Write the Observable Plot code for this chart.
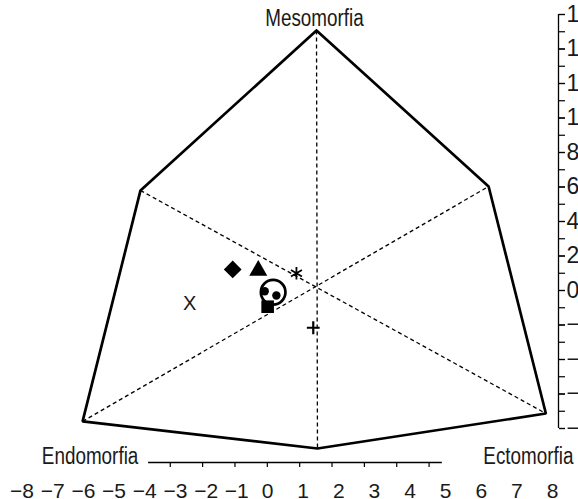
<!DOCTYPE html>
<html>
<head>
<meta charset="utf-8">
<script src="https://cdn.jsdelivr.net/npm/d3@7"></script>
<script src="https://cdn.jsdelivr.net/npm/@observablehq/plot@0.6"></script>
<style>
  html, body { margin: 0; padding: 0; background: white; overflow: hidden; }
  #wrap { position: relative; width: 578px; height: 499px; }
  #wrap svg { position: absolute; left: 0; top: 0; }
</style>
</head>
<body>
<div id="wrap"></div>
<script>
// ---- data (somatochart coordinates) ----
const vertexNames = ["Mesomorfia", "Endomorfia", "Ectomorfia"];
// hull vertices: top, upper-right, lower-right, bottom, lower-left, upper-left
const hullX = [1.52, 6.84, 8.61, 1.55, -5.71, -3.92];
const hullY = [15.07, 6.03, -7.13, -9.16, -7.59, 5.80];
// dashed axes join opposite vertices
const axisPairs = [[0, 3], [5, 2], [4, 1]];

// group means
const pointKind = ["diamond", "triangle", "asterisk", "ring", "dot", "dot", "square", "X", "plus"];
const pointX = [-1.07, -0.28, 0.90, 0.18, -0.08, 0.28, 0.01, -2.40, 1.42];
const pointY = [1.22, 1.16, 1.00, -0.10, -0.04, -0.29, -0.94, -0.77, -2.16];

// axes
const xTicks = [-3, -2, -1, 0, 1, 2, 3, 4, 5];
const xLabels = [-8, -7, -6, -5, -4, -3, -2, -1, 0, 1, 2, 3, 4, 5, 6, 7, 8];
const xBaseline = [-3.67, 5.41];
const yTicks = d3.range(-8, 17);
const yLabels = [-8, -6, -4, -2, 0, 2, 4, 6, 8, 10, 12, 14, 16];

// ---- derived tables ----
const hull = hullX.map((x, i) => ({x, y: hullY[i]}));
const hullClosed = [...hull, hull[0]];
const links = axisPairs.map(([a, b]) => ({x1: hullX[a], y1: hullY[a], x2: hullX[b], y2: hullY[b]}));
const points = pointKind.map((k, i) => ({kind: k, x: pointX[i], y: pointY[i]}));
const pts = k => points.filter(p => p.kind === k);

const FONT = "'Liberation Sans', Arial, Helvetica, sans-serif";
const INK = "#1a1a1a";

const vlabel = (idx, name, dx, dy) =>
  Plot.text([hull[idx]], {x: "x", y: "y", text: () => name, dx, dy,
    fontSize: 23, fill: INK, textAnchor: "middle", lineAnchor: "middle"});

const main = Plot.plot({
  width: 578, height: 499,
  marginLeft: 8, marginRight: 20, marginTop: 14, marginBottom: 37,
  insetBottom: 34,
  x: {domain: [-8, 9]},
  y: {domain: [-8, 16]},
  style: {fontFamily: FONT, color: INK, background: "white", overflow: "visible"},
  marks: [
    Plot.link(links, {x1: "x1", y1: "y1", x2: "x2", y2: "y2", stroke: "black",
      strokeWidth: 1.3, strokeDasharray: "4,3"}),
    Plot.line(hullClosed, {x: "x", y: "y", stroke: "black", strokeWidth: 2.7,
      strokeLinejoin: "miter"}),
    vlabel(0, vertexNames[0], -2, -11.6),
    vlabel(4, vertexNames[1], 7.5, 35),
    vlabel(2, vertexNames[2], -17.5, 43),
    // markers
    Plot.dot(pts("diamond"), {x: "x", y: "y", symbol: "diamond2", r: 8.0, fill: "black", stroke: "none"}),
    Plot.dot(pts("triangle"), {x: "x", y: "y", symbol: "triangle", r: 6.7, fill: "black"}),
    Plot.dot(pts("asterisk"), {x: "x", y: "y", symbol: "asterisk", r: 6.0, stroke: "black", strokeWidth: 1.8}),
    Plot.dot(pts("ring"), {x: "x", y: "y", r: 12.3, stroke: "black", strokeWidth: 2.7, fill: "none"}),
    Plot.dot(pts("dot"), {x: "x", y: "y", r: 4.2, fill: "black"}),
    Plot.dot(pts("square"), {x: "x", y: "y", symbol: "square", r: 7.1, fill: "black"}),
    Plot.text(pts("X"), {x: "x", y: "y", text: () => "X", fontSize: 20, fill: INK, lineAnchor: "middle"}),
    Plot.dot(pts("plus"), {x: "x", y: "y", symbol: "plus", r: 4.2, stroke: "black", strokeWidth: 2.2}),
    // right axis
    Plot.ruleX([9], {y1: -8, y2: 16, stroke: "black", strokeWidth: 1.3}),
    Plot.axisY(yTicks, {anchor: "right", tickSize: 6, tickFormat: () => "", label: null, stroke: "black", strokeWidth: 1.2}),
    Plot.axisY(yLabels, {anchor: "right", tickSize: 6, tickPadding: 2, label: null, fontSize: 23, stroke: "black", strokeWidth: 1.2}),
    // bottom axis line and ticks
    Plot.ruleY([-8], {x1: xBaseline[0], x2: xBaseline[1], dy: 34, stroke: "black", strokeWidth: 1.3}),
    Plot.axisX(xTicks, {anchor: "bottom", tickSize: 5, tickFormat: () => "", label: null, stroke: "black", strokeWidth: 1.2})
  ]
});

// tick labels of the bottom axis (printed with their own spacing)
const labels = Plot.plot({
  width: 578, height: 499,
  marginLeft: 0, marginRight: 0, marginTop: 0, marginBottom: 20,
  x: {type: "linear", domain: [-8, 0, 8], range: [21.5, 267, 552]},
  style: {fontFamily: FONT, color: INK, background: "transparent", overflow: "visible"},
  marks: [
    Plot.axisX(xLabels, {anchor: "bottom", tickSize: 0, tickPadding: 4, label: null, fontSize: 21})
  ]
});

const wrap = document.getElementById("wrap");
wrap.append(main);
wrap.append(labels);

// the vertex names are set in a condensed face: narrow them horizontally
main.querySelectorAll("text").forEach(t => {
  if (vertexNames.includes(t.textContent)) {
    const w = t.getComputedTextLength();
    if (w > 0) {
      t.setAttribute("textLength", (w * 0.82).toFixed(1));
      t.setAttribute("lengthAdjust", "spacingAndGlyphs");
    }
  }
});
</script>
</body>
</html>
